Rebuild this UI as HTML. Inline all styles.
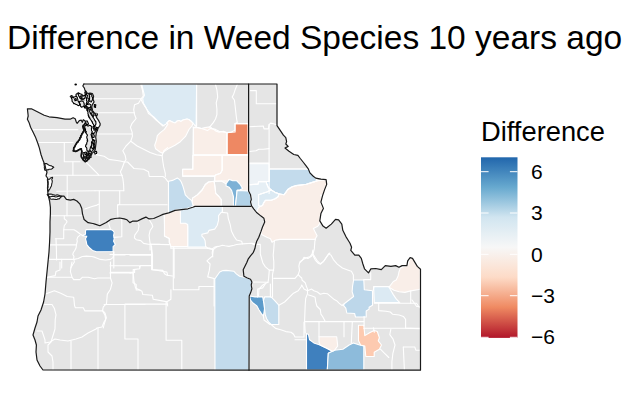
<!DOCTYPE html>
<html><head><meta charset="utf-8">
<style>
html,body{margin:0;padding:0;background:#fff;width:624px;height:412px;overflow:hidden}
.t{position:absolute;font-family:"Liberation Sans",Arial,sans-serif;color:#000;white-space:nowrap;line-height:1}
</style></head><body>
<div class="t" style="left:7px;top:21.2px;font-size:33.5px">Difference in Weed Species 10 years ago</div>
<div class="t" style="left:481px;top:117.5px;font-size:27.3px">Difference</div>
<svg style="position:absolute;left:0;top:0" width="624" height="412" viewBox="0 0 624 412">
<defs><linearGradient id="g" gradientUnits="userSpaceOnUse" x1="0" y1="337.2" x2="0" y2="157.3">
<stop offset="0" stop-color="#B2182B"/><stop offset="0.1667" stop-color="#EF8A62"/><stop offset="0.3333" stop-color="#FDDBC7"/><stop offset="0.5" stop-color="#F7F7F7"/><stop offset="0.6667" stop-color="#D1E5F0"/><stop offset="0.8333" stop-color="#67A9CF"/><stop offset="1" stop-color="#2166AC"/>
</linearGradient></defs>
<rect x="481" y="157.3" width="36.5" height="180.6" fill="url(#g)"/>
<g stroke="#fff" stroke-width="1">
<path d="M481 171.7h7.6M509.9 171.7h7.6M481 213h7.6M509.9 213h7.6M481 254.3h7.6M509.9 254.3h7.6M481 295.7h7.6M509.9 295.7h7.6M481 337.3h7.6M509.9 337.3h7.6"/>
</g>
<g font-family="Liberation Sans,Arial,sans-serif" font-size="21" fill="#000">
<text x="531" y="179">6</text>
<text x="531" y="220.3">3</text>
<text x="531" y="261.6">0</text>
<text x="531" y="302.9">−3</text>
<text x="531" y="344.2">−6</text>
</g>
<g id="map"><path d="M27.4,108.8 L31.4,108.8 37.8,112 44.2,115.2 49,116.8 57,117.6 65,119.2 70.1,119.2 73.1,117.7 75.2,118.7 76.2,121.8 77.2,123.3 79.3,120.7 81.3,120.2 82.3,122.3 83.3,119.7 84.9,120.7 85.9,122.8
82.9,126.4 84,130.7 81.9,133.9 79.7,139.2 76.5,143.5 73.9,147.7 73.3,150.9 75.5,151.5 78.7,149.9 81.3,148.8 81.9,152 81.3,156.3 82.9,159.5 85.1,161.6 87.2,160.5 89.3,157.3 90.9,154.1 93.6,152 95.2,149.9 95.7,145.6 96.3,141.3 95.7,137.1 96.3,132.8 97.9,128.5 100,125.3
100.2,123.8 98.7,120.7 96.6,117.7 95.6,114.6 94.1,112.6 92.5,110.5 91.5,107.5 92.5,104.4 94.1,101.9 93,99.3 93.6,96.2 92.5,93.7 90,93.2 87.9,93.7 86.4,92.2 84.9,90.1 84.4,88.1 82.8,86 83.9,84
L277,84 L277,125.6 280.2,130.4 283.4,135.2 285.8,137.6 286.6,141.6 285.8,144 288.2,146.4 285,148 289,151.3 293.8,154.5 297.9,155.3
300.3,158.5 303.5,162.5 305.9,165.7 308.3,168.9 309.9,172.9 313,176 315.7,178.1 320.9,179.2 326.1,179.6 326.7,184.4 324.6,189.6
322.5,195.9 320.7,195 322.2,199.4 320.7,203.7 323.6,209.6 320.7,213.9 320,218.3 320,223.4 322.2,225.6 325.8,227.8 329.5,225.6 332.4,222.7 335.5,219.3 338.6,219.9 341.8,224.1
342.8,230.3 345.9,236.6 348,240 350,243.2 351.6,247.2 350.8,250.4 354.8,255.2 358.8,255.2 361.3,258.4 362.9,264 364.5,268.8 368.5,272.9
370.9,268.8 375.7,268.5 381.3,269.6 385.3,265.6 390.9,266.4 395.7,265.6 398.9,267.2 402.1,265.6 406.9,265.6 407.7,260.8 410.1,257.6
412.5,258.4 414.9,262.4 417.3,266.4 420.5,269.2 L420.5,370.2 L43,370 40,366 37,360 36,352 36.4,345 35,340 33,335 35,328 37,322 38,316
41,310 43.6,302 45,294 46,282 47,272 48,262 49,252 49.6,242 50,232 50,222 50.4,213.8 50.4,207.4 49.6,201 48,194.6 47.5,188 48,182 47.5,178 46,176 47,172 46,170
45,165 44.2,163.3 42.6,159.3 41,154.5 39.4,148.1 37.8,143.3 35.4,136.9 33,132 30.6,127.2 29,122.4 27.4,119.2 28.2,116 Z" fill="#E5E5E5" stroke="none"/>
<path d="M86.8,108.2 88.2,107.6 88.5,108.4 89.2,109.8 88.9,110.3 88.3,111.5 87.0,110.6 86.9,109.3 86.8,108.2 Z" fill="#E5E5E5" stroke="#000" stroke-width="1.1" stroke-linejoin="round"/>
<path d="M90.2,107.5 91.8,107.2 91.7,108.4 92.4,109.6 91.0,110.4 90.3,109.4 90.1,108.1 90.2,107.5 Z" fill="#E5E5E5" stroke="#000" stroke-width="1.1" stroke-linejoin="round"/>
<path d="M94.3,104.5 95.8,104.8 95.7,106.0 95.3,106.4 95.6,107.5 94.2,107.0 94.4,106.2 94.3,104.5 Z" fill="#E5E5E5" stroke="#000" stroke-width="1.1" stroke-linejoin="round"/>
<path d="M95.5,112.5 96.4,112.9 97.2,113.4 97.4,114.3 96.8,116.0 95.2,115.2 95.6,114.1 95.1,113.1 95.5,112.5 Z" fill="#E5E5E5" stroke="#000" stroke-width="1.1" stroke-linejoin="round"/>
<path d="M93.0,126.5 93.7,126.6 94.8,126.2 94.7,127.4 95.4,128.3 95.5,129.5 94.0,130.2 93.8,128.9 93.1,128.1 93.4,127.4 93.0,126.5 Z" fill="#E5E5E5" stroke="#000" stroke-width="1.1" stroke-linejoin="round"/>
<path d="M96.5,127.2 97.8,127.8 97.5,128.8 97.6,129.5 97.5,130.6 96.2,130.0 96.6,129.2 96.2,128.2 96.5,127.2 Z" fill="#E5E5E5" stroke="#000" stroke-width="1.1" stroke-linejoin="round"/>
<path d="M89.8,142.5 91.0,142.2 91.2,143.7 91.4,144.5 90.0,145.0 90.1,143.6 89.8,142.5 Z" fill="#E5E5E5" stroke="#000" stroke-width="1.1" stroke-linejoin="round"/>
<path d="M94.8,151.5 96.3,151.2 96.8,152.2 96.4,153.8 95.0,154.2 94.9,153.5 94.6,152.4 94.8,151.5 Z" fill="#E5E5E5" stroke="#000" stroke-width="1.1" stroke-linejoin="round"/>
<path d="M84.5,128.0 85.1,127.9 86.5,127.5 87.2,128.8 87.5,130.0 87.5,130.8 87.0,132.1 86.5,133.0 85.8,132.5 85.0,132.0 85.2,131.4 84.7,130.1 84.2,129.2 84.5,128.0 Z" fill="#E5E5E5" stroke="#000" stroke-width="1.1" stroke-linejoin="round"/>
<path d="M88.0,152.0 89.4,151.9 90.5,151.0 91.3,151.8 91.4,153.2 92.0,154.0 91.3,154.8 91.2,155.4 90.9,156.9 91.0,157.5 89.8,157.8 89.2,158.8 88.5,159.0 87.6,158.1 87.5,157.7 87.0,156.5 87.5,155.9 87.2,154.6 87.5,154.1 88.2,152.6 88.0,152.0 Z" fill="#E5E5E5" stroke="#000" stroke-width="1.1" stroke-linejoin="round"/>
<path d="M83.0,153.0 84.0,152.5 85.5,152.5 85.6,153.5 86.2,154.3 86.5,155.5 85.8,156.4 85.9,157.6 86.2,158.7 85.5,159.5 84.5,158.9 83.5,158.0 83.6,156.6 83.7,156.3 83.5,155.3 83.0,153.9 83.0,153.0 Z" fill="#E5E5E5" stroke="#000" stroke-width="1.1" stroke-linejoin="round"/>
<path d="M93.3,139.5 93.8,140.1 95.0,140.5 94.6,141.0 94.7,142.0 94.9,142.8 94.6,143.9 94.6,145.0 95.0,146.0 94.3,147.3 94.6,147.7 94.0,148.9 94.0,150.0 93.1,148.7 92.5,148.0 92.9,147.5 92.6,146.1 92.4,144.8 92.7,144.0 93.2,143.0 92.6,142.7 93.1,141.1 93.2,140.0 93.3,139.5 Z" fill="#E5E5E5" stroke="#000" stroke-width="1.1" stroke-linejoin="round"/>
<path d="M88.5,112.5 89.5,113.2 90.5,113.0 91.0,114.3 90.6,115.2 91.0,116.5 90.0,117.5 89.5,118.0 89.1,117.4 88.5,116.1 88.2,115.5 88.6,114.9 88.7,113.8 88.5,112.5 Z" fill="#E5E5E5" stroke="#000" stroke-width="1.1" stroke-linejoin="round"/>
<path d="M92.0,119.0 93.4,119.5 94.3,119.5 94.4,120.4 94.8,120.8 94.8,121.9 95.5,123.0 94.5,123.9 94.0,124.5 93.6,123.5 92.3,122.5 92.6,121.8 92.5,120.0 92.0,119.0 Z" fill="#E5E5E5" stroke="#000" stroke-width="1.1" stroke-linejoin="round"/>
<path d="M85.5,121.5 86.2,121.0 87.5,121.0 87.6,121.7 88.3,123.4 88.5,124.0 87.8,124.4 86.5,124.8 86.3,124.0 85.5,122.7 85.5,121.5 Z" fill="#E5E5E5" stroke="#000" stroke-width="1.1" stroke-linejoin="round"/>
<path d="M88.0,128.5 89.4,128.5 90.0,128.0 90.5,129.1 90.2,130.6 90.8,131.5 89.7,132.3 89.0,132.5 89.2,131.4 88.4,130.9 88.5,129.2 88.0,128.5 Z" fill="#E5E5E5" stroke="#000" stroke-width="1.1" stroke-linejoin="round"/>
<path d="M88.5,136.0 89.2,135.4 90.5,135.5 91.0,136.8 90.4,137.8 91.3,138.6 91.0,139.5 90.0,140.0 89.2,140.5 88.7,139.2 89.3,138.8 88.8,138.2 88.6,137.2 88.5,136.0 Z" fill="#E5E5E5" stroke="#000" stroke-width="1.1" stroke-linejoin="round"/>
<path d="M70.9,96.7 72.3,97.0 73.2,97.9 73.9,97.1 75.0,96.7 76.2,95.6 76.5,96.5 77.3,97.3 77.4,98.4 77.9,99.7 77.9,100.9 78.5,101.4 79.0,102.5 79.7,103.7 79.5,105.0 79.1,105.5 78.1,105.6 77.3,104.9 76.5,104.6 75.6,104.3 74.7,103.6 73.8,103.7 73.2,102.6 72.7,102.0 72.0,101.1 72.1,99.7 71.5,98.2 70.9,96.7 Z" fill="#E5E5E5" stroke="#000" stroke-width="1.1" stroke-linejoin="round"/>
<path d="M78.5,92.7 79.1,93.2 80.2,93.8 81.3,94.2 82.0,94.4 82.4,95.3 83.2,96.2 84.3,95.0 84.9,96.1 85.5,96.7 84.8,97.7 84.9,98.5 83.8,98.6 83.2,99.1 82.5,98.8 81.4,98.5 80.6,98.4 79.7,97.9 79.6,97.0 78.8,96.2 78.6,95.3 78.2,94.4 78.5,92.7 Z" fill="#E5E5E5" stroke="#000" stroke-width="1.1" stroke-linejoin="round"/>
<path d="M79.7,101.4 80.9,101.3 82.0,100.8 82.8,101.4 83.7,102.0 84.0,103.5 84.3,104.3 83.9,105.8 83.2,106.6 82.7,106.7 81.4,107.2 80.9,106.7 80.2,105.5 80.4,104.1 79.6,103.4 79.4,102.2 79.7,101.4 Z" fill="#E5E5E5" stroke="#000" stroke-width="1.1" stroke-linejoin="round"/>
<path d="M89.0,93.8 89.8,94.3 91.3,94.4 92.0,95.7 91.8,96.5 92.5,97.3 92.5,97.9 92.6,99.7 92.2,100.2 91.5,101.5 91.3,102.0 90.4,101.7 89.6,101.4 90.0,100.7 89.3,99.4 89.6,98.5 89.6,97.2 89.6,96.2 89.0,94.8 89.0,93.8 Z" fill="#E5E5E5" stroke="#000" stroke-width="1.1" stroke-linejoin="round"/>
<path d="M85.5,91.0 86.1,91.5 86.3,92.8 86.6,93.8 86.6,94.6 87.5,95.7 87.8,96.7 87.8,98.1 88.9,99.1 89.0,99.7 88.4,100.5 88.2,101.9 88.4,102.6 87.6,103.4 87.2,104.9 86.2,104.0 86.3,103.4 86.9,101.8 86.8,101.0 86.4,100.4 86.7,99.2 86.5,98.0 85.7,96.4 85.6,95.5 85.4,94.2 84.9,93.0 84.8,92.4 85.5,91.0 Z" fill="#E5E5E5" stroke="#000" stroke-width="1.1" stroke-linejoin="round"/>
<path d="M74.5,99.0 76.0,98.6 76.5,100.3 75.0,100.8 74.9,100.2 74.5,99.0 Z" fill="#E5E5E5" stroke="#000" stroke-width="1.1" stroke-linejoin="round"/>
<path d="M80.5,96.0 81.8,95.7 82.2,97.2 80.8,97.5 80.5,96.0 Z" fill="#E5E5E5" stroke="#000" stroke-width="1.1" stroke-linejoin="round"/>
<path d="M84.6,106.0 86.0,105.6 85.8,106.9 86.4,107.6 85.0,108.2 84.4,107.4 84.6,106.0 Z" fill="#E5E5E5" stroke="#000" stroke-width="1.1" stroke-linejoin="round"/>
<path d="M84.8,126.2 85.6,125.5 86.5,125.0 87.5,125.9 88.5,126.0 89.3,125.4 90.5,125.5 91.3,126.3 92.0,127.5 91.4,128.4 91.5,130.0 91.6,130.7 92.5,132.0 91.8,132.7 91.7,133.5 91.0,134.5 91.4,135.5 91.8,137.0 92.0,137.6 92.2,138.6 92.8,140.0 92.6,140.9 91.7,141.6 91.5,142.5 92.1,143.4 92.0,145.0 91.5,145.9 90.5,147.0 90.2,148.6 90.0,149.5 89.2,150.5 88.5,151.5 87.9,151.4 87.0,150.5 86.8,149.5 86.8,148.0 86.3,147.4 85.5,146.5 85.8,145.5 86.0,144.5 86.8,144.0 86.7,143.2 87.2,141.7 87.8,141.0 87.1,140.3 87.5,139.2 86.8,138.0 86.8,136.8 87.1,136.0 87.5,135.0 86.7,134.1 86.3,133.7 86.0,132.5 86.3,131.5 85.4,130.9 85.5,129.5 85.1,128.3 84.6,127.2 84.8,126.2 Z" fill="#E5E5E5" stroke="#000" stroke-width="1.1" stroke-linejoin="round"/>
<path d="M87.0,108.5 88.0,108.8 89.0,109.0 89.1,110.0 89.2,110.8 90.0,112.0 90.1,112.9 90.6,113.6 91.5,115.0 91.8,115.5 92.6,116.5 93.2,117.4 93.5,118.0 94.3,119.3 94.5,119.8 95.2,121.0 95.9,121.7 95.9,123.1 96.0,124.0 95.1,125.6 95.0,126.5 94.6,125.9 93.5,125.0 93.4,124.3 92.5,123.0 92.5,122.0 91.8,121.5 91.4,120.6 90.5,119.5 90.1,118.9 89.7,117.7 89.0,116.5 88.5,115.1 88.2,114.4 87.9,113.8 88.0,112.5 87.8,111.6 87.6,110.7 87.2,109.1 87.0,108.5 Z" fill="#E5E5E5" stroke="#000" stroke-width="1.1" stroke-linejoin="round"/>
<path d="M92.0,111.5 93.5,112.0 93.9,113.4 93.8,114.4 94.0,115.5 93.6,115.9 93.0,117.0 92.7,115.5 92.0,114.5 91.6,113.3 92.2,112.2 92.0,111.5 Z" fill="#E5E5E5" stroke="#000" stroke-width="1.1" stroke-linejoin="round"/>
<path d="M86.4,104.4 87.9,104.5 89.0,103.8 90.0,104.3 91.0,105.0 90.7,106.3 90.5,107.2 89.5,107.6 88.0,107.8 87.4,106.8 86.5,106.5 86.1,105.2 86.4,104.4 Z" fill="#E5E5E5" stroke="#000" stroke-width="1.1" stroke-linejoin="round"/>
<path d="M91.8,143.5 93.3,143.0 93.6,143.7 93.6,144.4 93.2,145.5 93.9,146.8 93.8,147.5 93.2,148.1 92.3,149.0 91.8,147.7 91.3,146.5 91.4,145.2 92.0,144.2 91.8,143.5 Z" fill="#E5E5E5" stroke="#000" stroke-width="1.1" stroke-linejoin="round"/>
<path d="M92.0,133.5 93.3,133.6 93.8,133.0 93.5,134.0 94.3,135.4 94.1,135.8 94.3,137.0 92.8,137.8 92.3,137.1 92.1,135.7 91.9,134.6 92.0,133.5 Z" fill="#E5E5E5" stroke="#000" stroke-width="1.1" stroke-linejoin="round"/>
<path d="M84.5,152.5 86.0,152.0 86.7,152.7 86.5,154.0 85.0,154.8 85.0,153.7 84.5,152.5 Z" fill="#E5E5E5" stroke="#000" stroke-width="1.1" stroke-linejoin="round"/>
<path d="M88.5,153.5 90.0,153.2 90.5,154.3 90.3,155.0 88.8,155.5 88.4,154.9 88.5,153.5 Z" fill="#E5E5E5" stroke="#000" stroke-width="1.1" stroke-linejoin="round"/>
<path d="M86.5,156.0 88.0,155.7 88.1,156.2 88.3,157.5 86.8,158.0 86.2,157.0 86.5,156.0 Z" fill="#E5E5E5" stroke="#000" stroke-width="1.1" stroke-linejoin="round"/>
<path d="M43.8,163.8 45.1,163.6 46.4,163.6 47.2,164.0 48.3,164.8 49.1,165.3 50.4,165.6 51.5,165.8 52.4,166.6 53.2,166.7 53.8,167.3 52.9,167.9 52.4,168.6 51.2,169.2 50.1,169.3 49.1,169.3 48.0,169.9 47.2,169.9 45.9,170.3 44.8,170.2 44.5,169.1 44.5,168.2 44.3,167.7 44.5,166.7 44.2,165.9 44.2,164.7 43.8,163.8 Z" fill="#fff" stroke="#1a1a1a" stroke-width="1.1" stroke-linejoin="round"/>
<path d="M47.3,179.8 48.5,179.3 49.5,179.3 50.5,178.0 51.7,177.6 52.6,177.3 52.5,178.3 51.9,178.8 51.8,180.0 52.3,180.8 52.2,182.0 52.0,182.9 51.7,184.1 51.6,185.0 51.4,186.0 50.8,187.1 50.2,188.3 49.7,189.2 48.9,190.1 48.6,191.3 47.9,190.3 47.6,188.8 47.7,187.7 48.1,187.3 47.9,185.8 47.9,184.9 48.2,184.2 47.9,182.9 47.6,181.9 47.6,181.1 47.3,179.8 Z" fill="#fff" stroke="#1a1a1a" stroke-width="1.1" stroke-linejoin="round"/>
<path d="M47.6,194.2 48.9,194.1 49.8,194.1 51.0,194.0 51.8,194.2 52.5,194.5 53.9,194.7 54.5,195.2 55.7,195.2 57.1,194.9 58.0,195.0 58.8,195.2 59.8,195.7 61.1,196.3 61.8,196.4 61.3,196.8 60.1,197.8 59.9,198.3 59.0,199.0 58.1,198.8 56.9,199.5 56.2,199.5 55.0,199.4 54.4,199.2 53.0,199.0 52.3,199.3 51.7,199.2 50.5,199.0 50.1,198.4 49.5,197.4 48.8,196.8 48.4,196.1 48.2,194.9 47.6,194.2 Z" fill="#fff" stroke="#1a1a1a" stroke-width="1.1" stroke-linejoin="round"/>
<path d="M141.6,84 L196.6,84 196.1,126.7 195.2,125.9 193,123.2 192.7,122.9 190.8,121 188.8,119.5 186.9,119 183,120 181,121.4 179.1,120.5 177.2,121 175.2,122.9 173.5,122.5 171.4,121.4 169.4,120.5 166.8,122.9 166.2,124.1 162.6,125.9 159.1,122.3 153.8,117 148.5,113.5 146,107.6 143.3,103 142.7,98.6 144.4,95.2 142.7,88.5 Z" fill="#DCEAF3" stroke="#fff" stroke-width="1.1" stroke-linejoin="round"/>
<path d="M155.6,148.8 154.7,145.3 156.5,140 157.3,135.6 160,132.9 164.4,129.4 167.9,124.1 166.8,122.9 169.4,120.5 171.4,121.4 173.5,122.5 175.2,122.9 177.2,121 179.1,120.5 181,121.4 183,120 186.9,119 188.8,119.5 190.8,121 192.7,122.9 193,123.2 192,126 189,129.4 185.5,136.4 180.3,141.7 175,145.3 169.7,147.9 164.4,151.4 162.6,153.2 160,152 Z" fill="#F9EEE8" stroke="#fff" stroke-width="1.1" stroke-linejoin="round"/>
<path d="M193.5,127.6 197.9,127.6 201.4,128.5 205,127.6 210.2,126.7 212,128.5 215.5,129.4 219,131.2 222.6,132 227,132.6 227,154.9 193.5,154.9 Z" fill="#F9EEE8" stroke="#fff" stroke-width="1.1" stroke-linejoin="round"/>
<path d="M234.9,123.7 248,123.7 248,154.6 227,154.6 227,132.6 231.4,132 234.9,130.3 Z" fill="#EE8863" stroke="#fff" stroke-width="1.1" stroke-linejoin="round"/>
<path d="M192.8,155.2 222.2,155.2 222.2,170.2 220.5,173.2 218.5,174.1 215.6,175.1 214.7,176.1 182.6,176.1 182.6,169.3 192.8,169.3 Z" fill="#F9EEE8" stroke="#fff" stroke-width="1.1" stroke-linejoin="round"/>
<path d="M222.2,155.2 248.6,155.2 248.6,191.4 247.4,191 237.1,190.4 240.1,189.8 242.5,188.6 240.1,184.3 236.5,180.7 232.8,180.7 229.2,179.4 226.1,183.7 221.3,181 214.7,181.3 214.7,176.1 215.6,175.1 218.5,174.1 220.5,173.2 222.2,170.2 Z" fill="#F9EEE8" stroke="#fff" stroke-width="1.1" stroke-linejoin="round"/>
<path d="M192.5,198.1 197.3,194.9 202.1,190 205.3,184.5 208.5,182 214.1,181.3 215,186.9 215.7,193.3 218.9,196.5 221.3,199.7 221.3,206.4 193.3,206.4 192.5,203.7 Z" fill="#F9EEE8" stroke="#fff" stroke-width="1.1" stroke-linejoin="round"/>
<path d="M168.5,181.3 172.5,180.4 177.3,178 179.7,179.6 181.3,182 182.9,186.1 184.5,191.7 185.3,194.9 188.5,198.1 191.7,200.5 192.5,203.7 193.3,206.4 190.1,207.7 186.1,209 181.3,209.3 176.5,209.6 173.3,211.7 168.5,213.3 Z" fill="#C3DBEC" stroke="#fff" stroke-width="1.1" stroke-linejoin="round"/>
<path d="M226.1,183.7 229.2,179.4 232.8,180.7 236.5,180.7 240.1,184.3 242.5,188.6 240.1,189.8 237.1,190.4 236.5,196.5 235.8,202.5 235.2,206.4 233.4,206.4 233.4,196.5 231.6,190.4 229.2,187.3 226.1,186.1 Z" fill="#7DB1D6" stroke="#fff" stroke-width="1.1" stroke-linejoin="round"/>
<path d="M237.1,190.4 247.4,191 248.6,191.4 250.4,195.2 251.3,199.5 250.9,202.5 251.6,206.4 235.4,206.4 235.8,202.5 236.5,196.5 Z" fill="#B2D2E7" stroke="#fff" stroke-width="1.1" stroke-linejoin="round"/>
<path d="M180.3,210 185.1,209.1 189.6,207.9 192.9,206.6 222.4,206.6 222.4,212.4 221.2,212.4 218.6,215.6 218.6,220.1 217.3,225.2 214.7,229.1 208.9,230.4 207.7,232.9 201.9,234.2 201.9,236.2 203.8,238.1 205.1,240.7 205.7,247 187.7,247 187.7,225.9 185.1,223.9 180.3,223.3 Z" fill="#DCEAF3" stroke="#fff" stroke-width="1.1" stroke-linejoin="round"/>
<path d="M164.3,214.2 168.7,212.9 175.1,210.4 180.3,210 180.5,223.2 185.3,223.2 187.7,224.5 187.7,246.5 170.9,246.5 169.3,242.4 169.3,238.4 164.5,236 164.5,224.8 Z" fill="#F9EEE8" stroke="#fff" stroke-width="1.1" stroke-linejoin="round"/>
<path d="M85.5,231 86.2,229.6 109.5,229.4 111,229.6 113.1,230.8 114.2,232.5 113.6,235.7 114.2,238.5 113.6,241.2 115.3,244.5 113.1,246.7 113.1,251.5 96.4,251.7 92.6,250.4 89.4,247.8 86.8,244.6 86.2,241.4 85.5,238.8 86.8,236.2 82.3,235.6 85.5,234.3 Z" fill="#3F80BE" stroke="#fff" stroke-width="1.1" stroke-linejoin="round"/>
<path d="M214.8,279 219.7,272 223,270.6 226.2,270.4 233.7,271.2 236.6,274.1 239.6,276.3 243.2,277 246.8,277.8 250.5,279.2 251.9,282.1 251.2,285 251.9,288.7 250.5,293.1 249.2,296 249,370.2 215,370.2 Z" fill="#C3DBEC" stroke="#fff" stroke-width="1.1" stroke-linejoin="round"/>
<path d="M249.6,296 255,296.9 262.7,296.9 263.4,300.7 264,303.3 264.6,308.4 264,312.3 263.4,316.2 261.4,313.6 258.9,309.7 256.9,305.9 253,303 250.5,300 Z" fill="#5C9BCB" stroke="#fff" stroke-width="1.1" stroke-linejoin="round"/>
<path d="M264.6,296.9 271.1,296.9 274.3,300.1 278.8,305.2 278.8,324.5 271.1,324.5 268.5,321.9 266.6,318.7 265.3,314.9 264.6,309.7 264,303.3 263.4,300.7 Z" fill="#C3DBEC" stroke="#fff" stroke-width="1.1" stroke-linejoin="round"/>
<path d="M306.5,333.5 308.5,334.6 309.6,339.8 313.8,342.9 320,345 326.3,348.1 332.5,351.3 328.3,353.3 327.3,370 306.5,370 Z" fill="#3F80BE" stroke="#fff" stroke-width="1.1" stroke-linejoin="round"/>
<path d="M328.3,353.3 334.6,350.2 342.9,349.2 349.2,345 353.3,342.9 359.6,345 363.8,346 363.8,370 327.3,370 Z" fill="#8DBBDB" stroke="#fff" stroke-width="1.1" stroke-linejoin="round"/>
<path d="M319,336.7 336.7,336.7 337.7,346 334.6,350.2 332.5,351.3 326.3,348.1 320,345 319,342 Z" fill="#F9EEE8" stroke="#fff" stroke-width="1.1" stroke-linejoin="round"/>
<path d="M358.5,325.2 363.8,325.2 364.8,335.6 370,332.5 374.2,330.4 377.3,331.5 379.4,337.7 378.3,340.8 381.5,345 379.4,349.2 374.2,352.3 374.2,356.5 365.8,356.5 364.8,346 360.6,345 358.5,340.8 Z" fill="#FDCAB0" stroke="#fff" stroke-width="1.1" stroke-linejoin="round"/>
<path d="M353.6,280 363.8,280 364.3,289.7 372.5,290.7 372.5,305.2 369.1,307.2 369.1,309.1 366.2,311 366.2,317 355.5,317 354.6,313.5 346.8,313 345.8,308.2 342.9,304.8 353.6,296.5 352.1,291.7 352.6,285.8 Z" fill="#BDD7EA" stroke="#fff" stroke-width="1.1" stroke-linejoin="round"/>
<path d="M373.6,286.6 388.9,286.6 390.3,289.5 393.3,294.6 396.2,298.9 399.8,302.6 374.3,302.6 Z" fill="#DCEAF3" stroke="#fff" stroke-width="1.1" stroke-linejoin="round"/>
<path d="M407.7,265.6 410,258.4 412.5,258.4 414.9,262.4 417.3,266.4 420.3,269 420.3,289 418.7,289.5 410.7,290.9 404.9,292.4 399.1,291.7 394,290.2 388.9,287.3 393.3,281.5 396.2,280 398.1,276.1 398.9,272 400.5,268 403.7,266.4 Z" fill="#F9EEE8" stroke="#fff" stroke-width="1.1" stroke-linejoin="round"/>
<path d="M258.1,208.1 259.6,206.5 262.5,205.5 263.5,203.1 265.4,200.2 271.2,200.2 275.1,198.7 278,196.8 279,193.8 283.9,194.8 285.8,192.4 287.7,189.5 291.6,187 296,185.6 306.2,184.2 317,180.9 323.6,179.9 326.1,179.6 326.7,184.4 324.6,189.6 322.5,195.9 320.7,195 322.2,199.4 320.7,203.7 323.6,209.6 320.7,213.9 320,218.3 320,223.4 319.3,224.1 317.8,226.3 313.4,228.5 314.9,231.4 317.1,235.8 314.9,239.4 280,239.4 275.6,240.1 272,242.3 270.5,238.7 266.8,237.2 261,234.3 262.5,227 264.7,221.9 263.9,218.3 261,216.1 256.6,212.5 Z" fill="#F9EEE8" stroke="#fff" stroke-width="1.1" stroke-linejoin="round"/>
<path d="M269.1,169 309,169 313.4,175.5 317,179.9 317,180.9 306.2,184.2 296,185.6 291.6,187 287.7,189.5 285.8,192.4 283.9,194.8 279,193.8 275.1,192.4 271.2,190 268.3,187.5 266.4,183.7 266.4,181.7 269.1,181.2 Z" fill="#C3DBEC" stroke="#fff" stroke-width="1.1" stroke-linejoin="round"/>
<path d="M248.6,163.8 269.1,163.8 269.1,181.2 266.4,181.7 258.6,181.7 258.1,184.1 250.9,184.6 248.6,184.6 Z" fill="#EDF2F6" stroke="#fff" stroke-width="1.1" stroke-linejoin="round"/>
<path d="M248.6,184.6 250.9,184.6 258.1,184.1 258.6,181.7 266.4,181.7 268.3,187.5 271.2,190 266.9,191.9 258.6,194.8 258.6,205 259.6,206.5 258.1,208.1 256.6,212.5 253.3,207.9 251.3,204 250.9,201.1 251.8,197.2 250.4,194.3 248.6,191.4 Z" fill="#E6EFF5" stroke="#fff" stroke-width="1.1" stroke-linejoin="round"/>
<path d="M258.6,194.8 266.9,191.9 271.2,190 275.1,192.4 279,193.8 278,196.8 275.1,198.7 271.2,200.2 265.4,200.2 263.5,203.1 262.5,205.5 259.6,206.5 258.6,205 Z" fill="#DCEAF3" stroke="#fff" stroke-width="1.1" stroke-linejoin="round"/>
<g fill="none" stroke="#fff" stroke-width="1.1" stroke-linejoin="round" stroke-linecap="round">
<path d="M94.5,98.7 L140.9,98.7"/>
<path d="M94.5,112.8 L134.5,112.8"/>
<path d="M97.1,134 L132,134"/>
<path d="M31,129.6 L77.9,129.6"/>
<path d="M38.6,142.5 L73.1,142.5"/>
<path d="M64.3,142.5 L64.3,161.8 L80,161.8"/>
<path d="M72.9,161.8 L72.9,175.3"/>
<path d="M45.5,175.3 L122.5,175.3"/>
<path d="M84,160.2 88,164.2 92.9,169 97.7,173.8 99,175.3"/>
<path d="M96.1,154.6 104.1,156.2 108.9,159.4 115.3,160.2 120.1,161 124.4,162 127.6,162 134,168.5 143.7,169.3 148.5,171.7 149.3,176.5 162.9,176.5 165.3,178.1 167.7,181.3"/>
<path d="M56.7,191.2 L95,190.8"/>
<path d="M67.2,175.3 L67.2,190.7 L67.2,199"/>
<path d="M99.3,190.7 L99.3,222.7"/>
<path d="M84.9,209.1 91.3,206.7 96.9,205.1 98.5,204.2"/>
<path d="M140.9,84.5 142.5,90.4 143.3,96 140.9,99.2 142.5,102.4 144.9,106.4 148.1,111.2 152.1,116 156.1,120.1 160.1,123.3 164.1,126"/>
<path d="M140.9,99.2 138.5,103.2 134.5,104.8 133.7,109.6 134.5,114.4 136.1,118.5 132.1,123.3 130.4,127.3 132.1,132.1 132.4,136.4 130.8,141.2 126,146 122.8,150.8 125.2,155.6 126,159.6 124.4,162 122,168.5 120.4,171.7 122.8,178.1 123.6,184.5 123.8,189.5 123.8,190.8"/>
<path d="M130.8,141.2 137.2,146 143.7,149.2 150.1,152.4 156.5,154.8 162.1,155.6 162.9,162 163.7,166.9 165.3,173.3 165.3,176.5"/>
<path d="M162.1,155.6 163.7,150.8 167.7,147.6"/>
<path d="M196.6,84 L196.6,126.7"/>
<path d="M193.3,127.6 L192.8,169.3 L182.6,169.3 L182.6,176.1 L214.7,176.1"/>
<path d="M193.3,155.2 L248,155.2"/>
<path d="M222.2,155.2 222.2,170.2 220.5,173.2 218.5,174.1 215.6,175.1 214.7,176.1 214.7,181.3"/>
<path d="M215.5,84.5 216.9,89.8 217.7,97.1 216.2,102.9 216.9,108.8 216.9,114.6 215.5,119 213.3,122.6 210.4,126.2 208.9,127.7"/>
<path d="M237.3,84.5 235.1,89.8 233.7,94.2 232.2,97.1 234.4,100 235.1,105.8 235.9,113.1 236.6,119 237.3,122.6 235.1,123.6"/>
<path d="M192.9,127 198.7,127.7 203.1,129.1 207.5,130.6 210.4,128.4 213.3,129.1 216.2,131.3 219.1,132.1 223.5,131.3 227.1,132.8 235.1,131.9 235.1,123.6 248,123.6"/>
<path d="M227.1,132.8 L227.1,155.2"/>
<path d="M250.4,90.6 256.3,90.6 256.3,103.7 276.4,103.7"/>
<path d="M249.5,126.7 263.3,126 264,128.9 268.4,128.9 269.1,124.6 270.6,123.1 273.5,123.8 276.4,124.6"/>
<path d="M269.1,124.6 L269.1,193.5"/>
<path d="M249.5,151.5 256,150.8 258.9,149.3 263.3,149.3 269.1,148.6"/>
<path d="M249.5,163.1 L269.1,163.1"/>
<path d="M269.1,169 L309,169"/>
<path d="M248.6,184.6 250.9,184.6 258.1,184.1 258.6,181.7 266.4,181.7 269.1,181.2"/>
<path d="M266.4,181.7 266.4,183.7 268.3,187.5 271.2,190 275.1,192.4 279,193.8 283.9,194.8 285.8,192.4 287.7,189.5 291.6,187 296,185.6 306.2,184.2 317,180.9"/>
<path d="M271.2,190 266.9,191.9 258.6,194.8 258.6,205 259.6,206.5 262.5,205.5 263.5,203.1 265.4,200.2 271.2,200.2 275.1,198.7 278,196.8 279,193.8"/>
<path d="M309,169 313.4,175.5 317,179.9"/>
<path d="M168.5,181.3 L168.5,213.3"/>
<path d="M192.5,198.1 197.3,194.9 202.1,190 205.3,184.5 208.5,182 214.1,181.3 221.3,181 226.5,181"/>
<path d="M214.1,181.3 215,186.9 215.7,193.3 218.9,196.5 221.3,199.7 221.3,206.4"/>
<path d="M95,190.8 L123.8,190.8"/>
<path d="M119.7,190.8 119.7,204.3 117.5,205.2 117.9,217.8"/>
<path d="M117.5,204.8 L167.1,204.8"/>
<path d="M121.8,219.4 L121.8,236.8 L114.2,237.4"/>
<path d="M137.6,221.5 139,225.8 138.1,230.5 134.8,235.1 134.4,237.8 136.2,239.7 140.8,240.6 143.6,243.4 148.2,244.3 160,244.3"/>
<path d="M148.7,219 151.9,224 152.8,226.8 150.1,230.5 149.1,235.1 149.6,239.7 150.1,243.4 150.1,250"/>
<path d="M164.3,214.2 164.5,224.8 164.5,236 169.3,238.4 169.3,242.4 170.9,246.5 170.9,248.1"/>
<path d="M110,254.5 L152.5,254.5"/>
<path d="M150.9,244 152.5,254.5 152.5,269.7 158.1,270.5 166.9,272.1 167.7,275.3"/>
<path d="M170.9,248.1 L210,248.1"/>
<path d="M174.1,248.1 L174.1,278"/>
<path d="M110,265.7 L139.6,265.7 139.6,267.3"/>
<path d="M110,272.9 L130.8,272.9"/>
<path d="M222.4,207 222.4,212.4 227.6,213 228.2,218.1 230.2,224.6 231.4,231 234,236.2 236.6,240 241.7,241.3 242.4,243.9"/>
<path d="M205.7,246.4 207.7,248.4 212.2,249 214.7,247.1 218.6,246.4 222.4,245.2 225,245.8 228.9,246.4 234,245.2 236.6,244.5 242.4,243.9 252,243.2 255.5,244"/>
<path d="M212.8,249 212.2,252.9 212.8,257"/>
<path d="M64.3,215.7 64.3,218.8 66.6,220.6 67,222 65.7,223.8 64.3,225.5 63.7,229.7 74,229.7 76.5,231.3 79.8,233.8 82.3,235.4"/>
<path d="M55.3,238.7 63.7,238.7 63.7,229.7"/>
<path d="M49.5,244.9 76.5,244.9"/>
<path d="M79.8,235.4 77.7,237.1 76.9,239.6 77.3,241.2 76.5,244.5 76.1,247.8 74.9,250.3 73.2,252.8 72.8,254.4 74,256.5 73.6,258.5 74.4,262 72.7,264.5 70.7,268"/>
<path d="M56,238.7 56.4,249.7 56.6,260"/>
<path d="M48.9,259.4 73.3,259.4"/>
<path d="M74,259.4 78.2,258.5 82.3,256.5 86.4,256.1 92,256.5 95.2,257.4 100.3,259.4 105.5,260 110.6,259.4 113.2,257.4 113.8,251.7"/>
<path d="M113.8,251.7 L113.8,268"/>
<path d="M113.8,254.9 L125,254.9"/>
<path d="M108.7,222.6 108.7,223.7 110.4,229"/>
<path d="M61.7,259.4 L61.7,268"/>
<path d="M60,262 60,270 56,271.6 55.2,275.6 47.2,277.2"/>
<path d="M47.2,277.2 72,277.2"/>
<path d="M72,262 71.3,265.2 70.4,271.6 72,277.2 73.7,279.6 80,279.6 82.5,277.2 88.1,277.2 94.5,278.8 97.7,278 110.5,278"/>
<path d="M110.5,262 110.5,278 112.1,282.8 110.5,289.2 107.3,294.1 106.5,303.7 103.3,306.9 102.5,310.9 104.9,314.9 105.7,319.7 104.1,324.5 103.3,328"/>
<path d="M110.5,272.4 134.6,272.4 134.6,270"/>
<path d="M133,272.4 133,282.8 136.2,284.4 136.2,290 140,290"/>
<path d="M45.5,294.1 54.4,290.8 60.8,293.3 67.2,296.5 73.7,297.3 74.5,305.3 75.3,307.7 83.3,307.7 84.9,310.9 102.5,310.9"/>
<path d="M104.1,304.5 L145,304.5"/>
<path d="M124.9,304.5 L124.9,339 L138,339 L138,370"/>
<path d="M43,304.5 52,304.5 54.4,308.5 56,314.9 55.2,319.7 55,329 51,342 48,345 48,352 52,356 53,362 53,370"/>
<path d="M37,331 42,331 45,340 45,343 50,342 55,339 60,340 68,341 76,339 82,337 88,333 96,329 97,328 102,327 104,322 106.4,318 105,313 103.3,311"/>
<path d="M71,341 L71,370"/>
<path d="M98,328 L98,370"/>
<path d="M151.6,246.4 151.6,269.6 162.9,270.4 164.5,273.7 166.9,275.3 172.5,276"/>
<path d="M130,255.2 151.6,255.2"/>
<path d="M130,272.9 133.2,272.9 133.2,269.6 139.6,268.8 140.4,265.6 151.6,265.6"/>
<path d="M133.2,272.9 134,281.7 135.6,288.1 142,291.3 142.8,294.5 152.4,295.3 153.2,299.3 162.1,300.9 166.9,301.7 167.7,306"/>
<path d="M173.3,247.2 173.3,289.7 198.9,289.7 198.9,286.5 214.1,286.5"/>
<path d="M170.9,289.7 170.9,299.3 166.9,301.7"/>
<path d="M214.1,278.5 214.1,306"/>
<path d="M206.9,248 213.3,249.6 217.3,246.4"/>
<path d="M213.3,249.6 212.5,256 206.9,260.8 210.1,264 209.3,270.4 207.7,276.9 214.1,278.5"/>
<path d="M125,304.1 167.7,304.1"/>
<path d="M166.1,301.7 166.1,340.2 181.8,340.2 181.8,370"/>
<path d="M253,244.4 260.3,244.4 260.3,254 262.9,263 265.4,266.9 269.3,270.1 273.8,270.1"/>
<path d="M274.4,240.5 273.8,248.9 273.2,255.3 273.8,261.7 273.8,268.2 272.5,274.6 272.5,297"/>
<path d="M269.3,270.1 268.6,278.4 268,282.3 265.4,283.6 262.9,284.9 259,289 258.5,296"/>
<path d="M251.9,282 268,282.3"/>
<path d="M273.8,278.4 295,278.4 298.2,274.6 299.5,270.7 298.9,266.2 299.5,263 302.7,259.8 304,257.2 307.9,258.5 311.1,256.6 313,254 314.3,248.9 314.9,241.1 315.6,239.2"/>
<path d="M313,254 316.9,260.4 320.1,263.7 323.3,261.7 325.9,257.9 328.5,254 330,253"/>
<path d="M298.2,274.6 300,276.5 301.7,278 302.2,280.3 305.2,282.7 306.3,286.2"/>
<path d="M257.6,296.9 257.6,289.1 262.7,287.9 265.3,284"/>
<path d="M270.4,284 270.4,296.9"/>
<path d="M278.8,305.2 284.6,302 290,296.6 293.5,293.2 298.2,290.8 301.1,286.7 301.7,285 304,289.1 307.5,290.8"/>
<path d="M306.3,286.2 307.5,289.1 307.5,293.7 305.7,298.4 305.2,304.8 304.6,321.1 305.2,333"/>
<path d="M308.6,294.9 312.1,296.1 315.1,297.2 315.6,301.3 316.8,306 320.3,309.5 320.9,314.1 322.6,316.5 325,321.1"/>
<path d="M307.5,290.8 311.6,289.1 313.9,290.8 317.4,292 320.3,294.3 323.8,293.2 327.3,293.7 330.8,296.6 334.3,299.6 336.6,300.7 339,303.1 341.9,305.4 344.2,304.8"/>
<path d="M271.1,324.5 275.6,328.4 280.7,329.7 285.9,331.6 291,332.2 293.6,334.2 295,337 304,337 304,322"/>
<path d="M263.4,316.2 264,320 270,324.5"/>
<path d="M312.9,250 312.2,253.9 310.3,256.4 306.4,257.7 303.9,259 300,261.6"/>
<path d="M312.2,253.9 315.4,260.3 318.6,263.5 320.6,264.1 324.4,260.3 327,256.4 328.9,253.9 330.9,255.1 333.4,259.6 337.3,264.1 342.4,268 347.6,269.9 351.4,271.2 353.4,275.1 353.4,279.6"/>
<path d="M363.7,279.6 370.7,279.6 370.7,272.5"/>
<path d="M373.3,289.9 374,286.7"/>
<path d="M364.1,316.4 364.1,325.9"/>
<path d="M378.7,302.6 378.7,310.6 386,311.3 390.3,312 392.5,314.2 399.1,315 403.4,316.4 405.6,319.3 405.6,328.1 420,328.8"/>
<path d="M374.3,303.3 416.5,303.3 419.5,307.7"/>
<path d="M410.7,290.9 L410.7,303.3"/>
<path d="M412,300 416.7,306.5 420.5,306.5"/>
<path d="M373.4,327.7 374.3,332.3"/>
<path d="M304.6,321.6 L363.8,321.6"/>
<path d="M319,322 319,336.7"/>
<path d="M344,322 344,336.7"/>
<path d="M352.3,322 351.3,343"/>
<path d="M363.8,328.3 L420,328.3"/>
<path d="M390.8,329.4 389.8,334.6 392.9,338.8 395,345 392.9,353.3 391.9,361.7 391.9,370"/>
<path d="M380.4,349.2 384.6,353.3 388.8,357.5"/>
<path d="M403.3,347 414.8,347 415.8,350.2 420,350.2"/>
<path d="M403.3,347 404.4,370"/>
<path d="M295,339.8 305.4,339.8"/>
<path d="M150.1,244.3 L169.3,244.6"/>
<path d="M67,200.4 L67,215.7"/>
<path d="M50.4,215.7 L83.8,215.7"/>
</g>
<g fill="none" stroke="#1a1a1a" stroke-width="1.2" stroke-linejoin="round" stroke-linecap="round">
<path d="M83.9,84 L277,84 L277,125.6 280.2,130.4 283.4,135.2 285.8,137.6 286.6,141.6 285.8,144 288.2,146.4 285,148 289,151.3 293.8,154.5 297.9,155.3 300.3,158.5 303.5,162.5 305.9,165.7 308.3,168.9 309.9,172.9 313,176 315.7,178.1 320.9,179.2 326.1,179.6 326.7,184.4 324.6,189.6 322.5,195.9 320.9,202.1 323.4,208.4 320.9,213.6 319.8,220.9 323,226.1 326.1,228.2 331.3,224.1 335.5,219.3 338.6,219.9 341.8,224.1 342.8,230.3 345.9,236.6 348,240 350,243.2 351.6,247.2 350.8,250.4 354.8,255.2 358.8,255.2 361.3,258.4 362.9,264 364.5,268.8 368.5,272.9 370.9,268.8 375.7,268.5 381.3,269.6 385.3,265.6 390.9,266.4 395.7,265.6 398.9,267.2 402.1,265.6 406.9,265.6 407.7,260.8 410.1,257.6 412.5,258.4 414.9,262.4 417.3,266.4 420.5,269.2 L420.5,370.2 L43,370 40,366 37,360 36,352 36.4,345 35,340 33,335 35,328 37,322 38,316 41,310 43.6,302 45,294 46,282 47,272 48,262 49,252 49.6,242 50,232 50,222 50.4,213.8 50.4,207.4 49.6,201 48,194.6 47.5,188 48,182"/>
<path d="M48,182 47.5,178 46,176 47,172 46,170 45,165 44.2,163.3 42.6,159.3 41,154.5 39.4,148.1 37.8,143.3 35.4,136.9 33,132 30.6,127.2 29,122.4 27.4,119.2 28.2,116 27.4,108.8 31.4,108.8 37.8,112 44.2,115.2 49,116.8 57,117.6 65,119.2 70.1,119.2 73.1,117.7 75.2,118.7 76.2,121.8 77.2,123.3 79.3,120.7 81.3,120.2 82.3,122.3 83.3,119.7 84.9,120.7 85.9,122.8 82.9,126.4 84,130.7 81.9,133.9 79.7,139.2 76.5,143.5 73.9,147.7 73.3,150.9 75.5,151.5 78.7,149.9 81.3,148.8 81.9,152 81.3,156.3 82.9,159.5 85.1,161.6 87.2,160.5 89.3,157.3 90.9,154.1 93.6,152 95.2,149.9 95.7,145.6 96.3,141.3 95.7,137.1 96.3,132.8 97.9,128.5 100,125.3 100.2,123.8 98.7,120.7 96.6,117.7 95.6,114.6 94.1,112.6 92.5,110.5 91.5,107.5 92.5,104.4 94.1,101.9 93,99.3 93.6,96.2 92.5,93.7 90,93.2 87.9,93.7 86.4,92.2 84.9,90.1 84.4,88.1 82.8,86 83.9,84"/>
<path d="M248.6,84 L248.6,191 250.5,194.7 251.3,199.5 250.5,201.9 251.6,205.9 253.7,208.8 256.6,212.5 261,216.1 263.9,218.3 264.7,221.9 262.5,227 261,231.4 258.8,237.2 256.6,241.6 255.6,245 254.9,248.6 253.4,252.3 250.5,255.9 248.3,258.8 246.8,262.5 244.7,266.8 243.2,269.8 243.6,273.4 243.9,276.3 246.8,277.8 250.5,279.2 251.9,282.1 251.2,285 251.9,288.7 250.5,293.1 249.2,296 L249,370.2"/>
<path d="M47.2,194.6 49.6,197 52.8,196.2 56,197 59.2,196.2 64,196.2 66.4,199.4 70.4,200.2 73.7,199.4 76.9,201 80,204.2 81.7,208.2 82.5,213.8 84.1,219.5 88.1,222.7 92.9,223.5 95,224.1 99.8,225.7 106.2,222.5 111,219.3 115,218.5 119.6,218 124.2,218.9 127,219.8 129.8,222.6 132.5,221.2 137.1,221.2 141.8,218.9 145.9,217.1 149.1,218.9 153.7,218.5 160,215.7 162.9,214.4 168.7,212.9 175.1,210.4 181.5,209.6 188,208.8 192.8,207.2 195,206.4 L251,206.4"/>
<path d="M82.9,126.4 84.2,127.5"/>
<path d="M83.2,158.5 84.5,156.5 86,159 87.5,157.5 89,159"/>
<path d="M90,150.5 91.5,152 93,150"/>
<path d="M94.5,128 95.5,131 94.5,133"/>
<path d="M70.3,96.5 71.5,95.5 73,96.5"/>
<path d="M76,94.5 77.5,93.2 78.5,94.5"/>
<path d="M81,99.8 82.5,99.3 84,100"/>
</g>
<path d="M85.9,122.8 84.9,123.5 84.5,124.7 83.4,125.2 82.9,126.4 83.2,127.5 83.4,128.4 83.8,129.3 84.0,130.7 83.2,131.7 82.9,132.9 81.9,133.9 81.7,134.9 80.8,135.8 80.9,137.2 80.0,137.8 79.7,139.2 79.1,140.2 78.4,140.8 77.9,142.1 76.9,142.3 76.5,143.5 75.7,144.5 75.3,145.4 74.8,146.8 73.9,147.7 73.7,148.6 73.8,149.7 73.3,150.9 74.6,151.0 75.5,151.5 76.4,151.1 77.5,150.7 78.7,149.9 80.0,149.1 81.3,148.8 81.3,149.8 81.8,151.2 81.9,152.0 81.5,153.0 81.4,154.5 81.2,154.9 81.3,156.3 81.5,157.3 82.6,158.7 82.9,159.5 83.8,160.5 84.7,160.8 85.1,161.6 85.9,161.4 87.2,160.5 88.1,159.1 88.7,158.3 89.3,157.3 89.7,156.1 90.1,154.8 90.9,154.1" fill="none" stroke="#111" stroke-width="1.7" stroke-linejoin="round"/>
<path d="M75.7,84.5 m-1.3,0 a1.3,1 0 1,0 2.6,0 a1.3,1 0 1,0 -2.6,0" fill="#000"/></g><!--endmap-->
</svg>
</body></html>
